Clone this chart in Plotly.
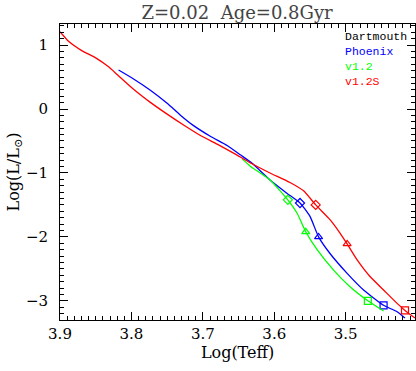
import plotly.graph_objects as go

# isochrone tracks: log(Teff), log(L/Lsun)
phoenix_teff = [3.818, 3.797, 3.773, 3.750, 3.731, 3.713, 3.689, 3.666, 3.647, 3.631, 3.606,
                3.582, 3.564, 3.550, 3.538, 3.522, 3.498, 3.475, 3.447, 3.428, 3.417]
phoenix_lum = [0.61, 0.47, 0.29, 0.09, -0.10, -0.26, -0.43, -0.57, -0.72, -0.85, -1.11,
               -1.32, -1.47, -1.68, -2.00, -2.26, -2.57, -2.83, -3.07, -3.17, -3.27]

v12_teff = [3.645, 3.634, 3.606, 3.581, 3.568, 3.556, 3.540, 3.517, 3.494, 3.469, 3.447]
v12_lum = [-0.78, -0.89, -1.11, -1.42, -1.63, -1.92, -2.20, -2.52, -2.78, -3.00, -3.16]

v12s_teff = [3.900, 3.888, 3.869, 3.850, 3.832, 3.820, 3.797, 3.773, 3.750, 3.727, 3.704,
             3.680, 3.657, 3.634, 3.606, 3.578, 3.559, 3.542, 3.522, 3.508, 3.498, 3.484,
             3.466, 3.447, 3.428, 3.417, 3.403]
v12s_lum = [1.21, 1.06, 0.91, 0.80, 0.66, 0.54, 0.31, 0.10, -0.08, -0.25, -0.41,
            -0.55, -0.69, -0.84, -1.00, -1.15, -1.28, -1.50, -1.73, -1.94, -2.11, -2.36,
            -2.62, -2.83, -3.04, -3.15, -3.27]

# mass points marked on each track (diamond, triangle, square)
phoenix_mark_teff = [3.564, 3.538, 3.447]
phoenix_mark_lum = [-1.47, -2.00, -3.07]
v12_mark_teff = [3.581, 3.556, 3.469]
v12_mark_lum = [-1.42, -1.92, -3.00]
v12s_mark_teff = [3.542, 3.498, 3.417]
v12s_mark_lum = [-1.50, -2.11, -3.15]
mark_symbols = ["diamond-open", "triangle-up-open", "square-open"]

legend_names = ["Dartmouth", "Phoenix", "v1.2", "v1.2S"]
legend_colors = ["black", "#0000ff", "#00ff00", "#ff0000"]

fig = go.Figure()
tracks = [
    (phoenix_teff, phoenix_lum, phoenix_mark_teff, phoenix_mark_lum, "#0000ff"),
    (v12_teff, v12_lum, v12_mark_teff, v12_mark_lum, "#00ff00"),
    (v12s_teff, v12s_lum, v12s_mark_teff, v12s_mark_lum, "#ff0000"),
]
for tx, ty, mx, my, col in tracks:
    fig.add_trace(go.Scatter(x=tx, y=ty, mode="lines", showlegend=False,
                             line=dict(color=col, width=1.3, shape="spline", smoothing=0.5)))
    fig.add_trace(go.Scatter(x=mx, y=my, mode="markers", showlegend=False,
                             marker=dict(symbol=mark_symbols, size=7, color=col, line=dict(color=col, width=1.2))))

# text legend in the top right corner
legend_text = "<br>".join(f"<span style='color:{c}'>{n}</span>" for n, c in zip(legend_names, legend_colors))
fig.add_annotation(x=0.797, y=0.985, xref="paper", yref="paper", text=legend_text,
                   showarrow=False, xanchor="left", yanchor="top", align="left",
                   font=dict(family="Liberation Mono", size=11.5, color="black"))

serif = "DejaVu Serif"
axis_common = dict(showline=True, linecolor="black", linewidth=1, mirror="ticks", ticks="inside",
                   ticklen=8, tickcolor="black", showgrid=False, zeroline=False, automargin=False,
                   tickfont=dict(family=serif, size=15, color="black"))

fig.update_xaxes(range=[3.9, 3.403], tick0=3.9, dtick=0.1, tickformat=".1f",
                 minor=dict(ticks="inside", ticklen=4, dtick=0.01, tickcolor="black"),
                 title=dict(text="Log(Teff)", font=dict(family=serif, size=16, color="black"), standoff=0),
                 **axis_common)
fig.update_yaxes(range=[-3.3, 1.33], dtick=1, ticklabelstandoff=8,
                 minor=dict(ticks="inside", ticklen=4, dtick=0.1, tickcolor="black"),
                 title=dict(text="Log(L/L<sub>⊙</sub>)", font=dict(family=serif, size=16, color="black"), standoff=2),
                 **axis_common)

fig.update_layout(
    width=416, height=371,
    margin=dict(l=60, r=1, t=24, b=51),
    plot_bgcolor="white", paper_bgcolor="white",
    title=dict(text="Z=0.02  Age=0.8Gyr", x=0.57, xanchor="center", y=0.967, yanchor="middle",
               font=dict(family=serif, size=18, color="#444444")),
)

# drop the default page margin so the 416x371 figure fills the window exactly
fig.write_html("out.html", config={"displayModeBar": False},
               post_script="document.body.style.margin='0';")
